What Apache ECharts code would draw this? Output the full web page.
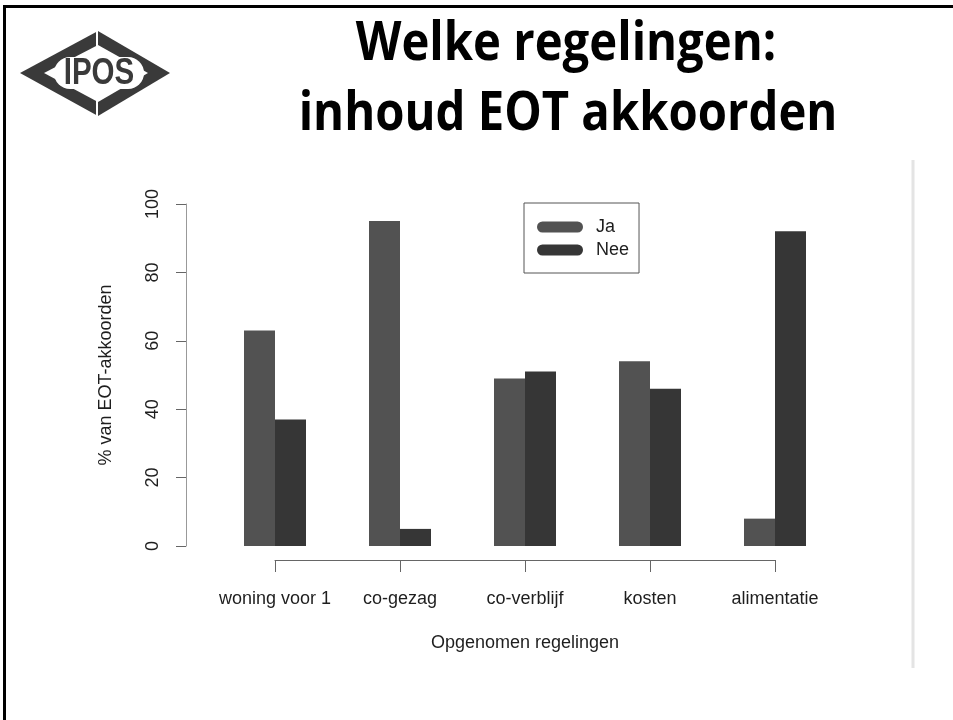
<!DOCTYPE html>
<html>
<head>
<meta charset="utf-8">
<script src="https://cdn.jsdelivr.net/npm/echarts@6/dist/echarts.min.js"></script>
<style>
  html, body { margin: 0; padding: 0; background: #fff; }
  #main { width: 953px; height: 720px; }
</style>
</head>
<body>
<div id="main"></div>
<script>
// categories and values
const categories = ['woning voor 1', 'co-gezag', 'co-verblijf', 'kosten', 'alimentatie'];
const jaValues = [63, 95, 49, 54, 8];
const neeValues = [37, 5, 51, 46, 92];
const seriesNames = ['Ja', 'Nee'];

const chart = echarts.init(document.getElementById('main'), null, { renderer: 'canvas' });

const axisFont = 'Liberation Sans, Arial, sans-serif';
const axisColor = '#666';
const textColor = '#1e1e1e';
const titleFont = 'bold 54px "Open Sans", sans-serif';
const capsule = 'path://M5.5,0H40.5A5.5,5.5,0,0,1,40.5,11H5.5A5.5,5.5,0,0,1,5.5,0Z';

const option = {
  backgroundColor: '#fff',
  animation: false,
  legend: {
    orient: 'vertical',
    left: 524,
    top: 203,
    padding: [15, 10, 14, 13],
    itemGap: 5,
    itemWidth: 46,
    itemHeight: 11,
    borderColor: '#555',
    borderWidth: 1,
    backgroundColor: '#fff',
    selectedMode: false,
    textStyle: { fontFamily: axisFont, fontSize: 18, color: textColor, padding: [0, 0, 0, 8] },
    data: [
      { name: seriesNames[0], icon: capsule },
      { name: seriesNames[1], icon: capsule }
    ]
  },
  grid: [
    // bars
    { left: 212.5, width: 625, top: 204, height: 342 },
    // x axis (R draws it only between the first and last tick)
    { left: 275, width: 500, top: 204, bottom: 160 }
  ],
  xAxis: [
    { type: 'category', gridIndex: 0, data: categories, show: false },
    {
      type: 'category',
      gridIndex: 1,
      data: categories,
      boundaryGap: false,
      axisLine: { lineStyle: { color: axisColor, width: 1 } },
      axisTick: { length: 12, alignWithLabel: true, lineStyle: { color: axisColor } },
      axisLabel: { margin: 30, fontFamily: axisFont, fontSize: 18, color: textColor, interval: 0 },
      splitLine: { show: false },
      name: 'Opgenomen regelingen',
      nameLocation: 'middle',
      nameGap: 74,
      nameTextStyle: { fontFamily: axisFont, fontSize: 18, color: textColor }
    }
  ],
  yAxis: [
    {
      type: 'value',
      gridIndex: 0,
      min: 0,
      max: 100,
      interval: 20,
      offset: 26.5,
      axisLine: { show: true, lineStyle: { color: '#999', width: 1 } },
      axisTick: { show: true, length: 10, lineStyle: { color: axisColor } },
      axisLabel: { rotate: 90, margin: 24, fontFamily: axisFont, fontSize: 18, color: textColor },
      splitLine: { show: false },
      name: '% van EOT-akkoorden',
      nameLocation: 'middle',
      nameGap: 71,
      nameTextStyle: { fontFamily: axisFont, fontSize: 18, color: textColor }
    },
    { type: 'value', gridIndex: 1, show: false }
  ],
  series: [
    {
      name: seriesNames[0],
      type: 'bar',
      xAxisIndex: 0,
      yAxisIndex: 0,
      barWidth: 31,
      barGap: '0%',
      itemStyle: { color: '#525252' },
      data: jaValues
    },
    {
      name: seriesNames[1],
      type: 'bar',
      xAxisIndex: 0,
      yAxisIndex: 0,
      barWidth: 31,
      barGap: '0%',
      itemStyle: { color: '#363636' },
      data: neeValues
    }
  ],
  graphic: [
    // slide frame
    { type: 'rect', shape: { x: 4.5, y: 6.5, width: 1000, height: 800 }, style: { fill: null, stroke: '#000', lineWidth: 3 }, silent: true },
    // grey edge of pasted image
    { type: 'line', shape: { x1: 913, y1: 160, x2: 913, y2: 668 }, style: { stroke: '#e4e4e4', lineWidth: 3 }, silent: true },
    // title (condensed to mimic Calibri)
    {
      type: 'text', x: 566, y: 45, scaleX: 0.875,
      style: { text: 'Welke regelingen:', textAlign: 'center', textVerticalAlign: 'middle', fill: '#000', font: titleFont }
    },
    {
      type: 'text', x: 568, y: 115, scaleX: 0.875,
      style: { text: 'inhoud EOT akkoorden', textAlign: 'center', textVerticalAlign: 'middle', fill: '#000', font: titleFont }
    },
    // IPOS logo
    {
      type: 'group',
      children: [
        { type: 'polygon', shape: { points: [[20, 73], [98, 31], [170, 73], [98, 116]] }, style: { fill: '#3a3a3a' } },
        { type: 'polygon', shape: { points: [[44, 73], [98, 45], [148, 73], [98, 102]] }, style: { fill: '#fff' } },
        { type: 'rect', shape: { x: 54, y: 57, width: 90, height: 32, r: 16 }, style: { fill: '#fff' } },
        { type: 'line', shape: { x1: 97, y1: 28, x2: 97, y2: 48 }, style: { stroke: '#fff', lineWidth: 2 } },
        { type: 'line', shape: { x1: 97, y1: 99, x2: 97, y2: 119 }, style: { stroke: '#fff', lineWidth: 2 } },
        {
          type: 'text', x: 99, y: 74, scaleX: 0.82,
          style: { text: 'IPOS', textAlign: 'center', textVerticalAlign: 'middle', fill: '#3a3a3a',
            font: 'bold 36px "Liberation Sans", Arial, sans-serif' }
        }
      ]
    }
  ]
};

chart.setOption(option);
</script>
</body>
</html>
